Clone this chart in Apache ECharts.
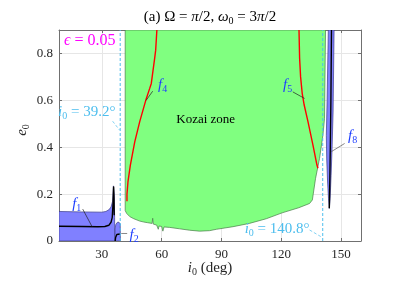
<!DOCTYPE html>
<html><head><meta charset="utf-8">
<script src="https://cdn.jsdelivr.net/npm/echarts@6/dist/echarts.min.js"></script>
<style>html,body{margin:0;padding:0;background:#fff}#c{width:407px;height:288px}</style>
</head><body><div id="c"></div>
<script>
// ---- axis ranges & ticks ----
const iMin = 8.5, iMax = 160, eMin = 0, eMax = 0.9;
const xTicks = [30, 60, 90, 120, 150];
const yTicks = [0, 0.2, 0.4, 0.6, 0.8];
const iCritLow = 39.2, iCritHigh = 140.8;

// ---- regions (i0 deg, e0) ----
const kozaiZone = [[41.7,0.9],[41.7,0.13],[42.4,0.118],[44,0.104],[46,0.095],[49,0.085],[51,0.081],[53,0.078],[55.2,0.075],[55.5,0.097],[55.8,0.072],[57.5,0.068],[58.3,0.05],[58.7,0.064],[60,0.062],[60.6,0.042],[61.2,0.06],[64,0.058],[69,0.052],[74,0.046],[79,0.042],[84,0.044],[87.5,0.05],[95.8,0.061],[104,0.075],[112.5,0.095],[120.4,0.12],[128.8,0.142],[134.2,0.16],[135.6,0.175],[137.2,0.267],[139.2,0.352],[140.9,0.452],[141.7,0.523],[142.2,0.9]];
const f1Region = [[8.5,0],[8.5,0.126],[20,0.124],[30,0.123],[32,0.126],[33.5,0.133],[34.6,0.145],[35.4,0.17],[35.8,0.235],[36.2,0.2],[36.4,0.1],[36.5,0]];
const f2Region = [[36.6,0],[36.6,0.05],[37.0,0.07],[37.8,0.08],[38.6,0.08],[39.2,0.072],[39.3,0]];
const f8Region = [[143.6,0.9],[143.0,0.6],[142.6,0.45],[142.8,0.35],[143.2,0.26],[143.7,0.18],[144.1,0.139],[144.5,0.18],[145.0,0.28],[145.5,0.4],[146.0,0.55],[146.5,0.9]];

// ---- curves ----
const f1Curve = [[8.5,0.063],[20,0.062],[28,0.061],[31.5,0.062],[33.5,0.067],[34.6,0.08],[35.2,0.1],[35.6,0.16],[35.9,0.232],[36.1,0.18],[36.2,0.11]];
const f2Curve = [[36.7,0.0],[36.9,0.015],[37.5,0.028],[38.3,0.032],[39.1,0.03]];
const f4Curve = [[57.6,0.9],[57.0,0.814],[56.5,0.78],[54.8,0.672],[54.0,0.651],[52.2,0.605],[49.0,0.509],[46.5,0.423],[44.3,0.324],[43.1,0.253],[42.6,0.2],[42.6,0.17]];
const f5Curve = [[128.9,0.9],[129.2,0.78],[129.7,0.70],[130.5,0.63],[131.5,0.58],[133.4,0.509],[135.9,0.409],[137.9,0.324],[138.4,0.31]];
const f8Curve = [[145.2,0.9],[144.9,0.6],[144.6,0.4],[144.4,0.28],[144.2,0.18],[144.1,0.14]];

// ---- annotations (data coordinates) ----
const annotations = [
  {text:'{i|f}{s|1}', at:[17.4,0.158], from:[20.4,0.136], to:[25.1,0.061], color:'#1f3fff', lead:'#222'},
  {text:'{i|f}{s|2}', at:[46.2,0.026], from:[42.7,0.032], to:[39.7,0.032], color:'#1f3fff', lead:'#555'},
  {text:'{i|f}{s|4}', at:[60.5,0.665], from:[55.5,0.639], to:[52.2,0.6], color:'#1f3fff', lead:'#222'},
  {text:'{i|f}{s|5}', at:[123.2,0.665], from:[125.8,0.636], to:[131.7,0.608], color:'#1f3fff', lead:'#222'},
  {text:'{i|f}{s|8}', at:[155.8,0.448], from:[151.8,0.416], to:[145.1,0.381], color:'#1f3fff', lead:'#555'},
  {text:'{i|i}{s|0}{n| = 39.2°}', at:[22.4,0.55], from:[35.4,0.511], to:[38.9,0.473], color:'#4dbeee', lead:'#4dbeee', dash:true},
  {text:'{i|i}{s|0}{n| = 140.8°}', at:[117.9,0.051], from:[134.2,0.047], to:[140.6,0.015], color:'#4dbeee', lead:'#4dbeee', dash:true},
  {text:'{i|ϵ}{n| = 0.05}', at:[23.9,0.853], color:'#ff00ff', big:true},
  {text:'{n|Kozai zone}', at:[82.1,0.516], color:'#000', small:true}
];

const SERIF = "'Liberation Serif','DejaVu Serif',serif";
const chart = echarts.init(document.getElementById('c'));

function polygonSeries(pts, fill, stroke, z) {
  return {type:'custom', coordinateSystem:'cartesian2d', data:[pts[0]], z, silent:true, clip:true, animation:false,
    renderItem:(p, api) => ({type:'polygon', shape:{points: pts.map(q => api.coord(q))},
      style:{fill, stroke, lineWidth:0.7}})};
}
function curve(pts, color, w, z) {
  return {type:'line', data:pts, showSymbol:false, symbol:'none', lineStyle:{color, width:w}, z, silent:true, animation:false};
}
function vline(x) {
  return {type:'line', data:[[x,eMin],[x,eMax]], showSymbol:false, symbol:'none', z:6, silent:true, animation:false,
    lineStyle:{color:'#4dbeee', width:1, type:[3,2]}};
}
function richFor(color, small, big) {
  const fs = small ? 13 : (big ? 16 : 15);
  return {
    i:{fill:color, fontFamily:SERIF, fontStyle:'italic', fontSize:fs, lineHeight:18, verticalAlign:'middle'},
    n:{fill:color, fontFamily:SERIF, fontSize:fs, lineHeight:18, verticalAlign:'middle'},
    s:{fill:color, fontFamily:SERIF, fontSize:10, lineHeight:11, verticalAlign:'bottom'}
  };
}
const annoSeries = {type:'custom', coordinateSystem:'cartesian2d', data:annotations.map(a => a.at), z:20, clip:false, silent:true, animation:false,
  renderItem:(p, api) => {
    const a = annotations[p.dataIndex];
    const c = api.coord(a.at);
    const children = [];
    if (a.from) {
      const s = api.coord(a.from), t = api.coord(a.to);
      children.push({type:'line', shape:{x1:s[0],y1:s[1],x2:t[0],y2:t[1]},
        style:{stroke:a.lead, lineWidth:0.7, lineDash: a.dash ? [3,2] : null}});
    }
    children.push({type:'text', x:c[0], y:c[1], style:{text:a.text, rich:richFor(a.color, a.small, a.big), align:'center', verticalAlign:'middle'}});
    return {type:'group', children};
  }};

const axisCommon = {
  type:'value', axisLine:{show:true, onZero:false, lineStyle:{color:'#707070', width:1}},
  axisTick:{show:true, inside:true, length:3, lineStyle:{color:'#707070'}}
};
const option = {
  animation:false,
  grid:{left:59, right:46, top:30, bottom:47},
  xAxis:[
    Object.assign({}, axisCommon, {min:iMin, max:iMax, position:'bottom',
      axisTick:Object.assign({}, axisCommon.axisTick, {customValues:xTicks}),
      axisLabel:{customValues:xTicks, color:'#262626', fontFamily:SERIF, fontSize:13, margin:7},
      splitLine:{show:true, lineStyle:{color:'#e6e6e6', width:1}}}),
    Object.assign({}, axisCommon, {min:iMin, max:iMax, position:'top',
      axisTick:Object.assign({}, axisCommon.axisTick, {customValues:xTicks}),
      axisLabel:{show:false}, splitLine:{show:false}})
  ],
  yAxis:[
    Object.assign({}, axisCommon, {min:eMin, max:eMax, position:'left',
      axisTick:Object.assign({}, axisCommon.axisTick, {customValues:yTicks}),
      axisLabel:{customValues:yTicks, color:'#262626', fontFamily:SERIF, fontSize:13, margin:6},
      splitLine:{show:true, lineStyle:{color:'#e6e6e6', width:1}}}),
    Object.assign({}, axisCommon, {min:eMin, max:eMax, position:'right',
      axisTick:Object.assign({}, axisCommon.axisTick, {customValues:yTicks}),
      axisLabel:{show:false}, splitLine:{show:false}})
  ],
  graphic:[
    {type:'text', x:210, y:17, style:{text:'(a) {n|Ω = }{i|π}{n|/2, }{i|ω}{s|0}{n| = 3}{i|π}{n|/2}', rich:richFor('#000'),
      align:'center', verticalAlign:'middle', fill:'#000', fontFamily:SERIF, fontSize:15}},
    {type:'text', x:210, y:268, style:{text:'{i|i}{s|0}{n| (deg)}', rich:richFor('#262626'), align:'center', verticalAlign:'middle'}},
    {type:'text', x:22, y:130, rotation:Math.PI/2, style:{text:'{i|e}{s|0}', rich:richFor('#262626'), align:'center', verticalAlign:'middle'}}
  ],
  series:[
    polygonSeries(kozaiZone, '#80ff80', '#4a7a4a', 2),
    polygonSeries(f1Region, '#8080ff', '#3a3a8a', 3),
    polygonSeries(f2Region, '#8080ff', '#3a3a8a', 3),
    polygonSeries(f8Region, '#8080ff', '#3a3a8a', 3),
    curve(f1Curve, '#000', 1.4, 5),
    curve(f2Curve, '#000', 1.4, 5),
    curve(f8Curve, '#000', 1.4, 5),
    curve(f4Curve, '#ff0000', 1.4, 5),
    curve(f5Curve, '#ff0000', 1.4, 5),
    vline(iCritLow),
    vline(iCritHigh),
    annoSeries
  ]
};
chart.setOption(option);
</script></body></html>
